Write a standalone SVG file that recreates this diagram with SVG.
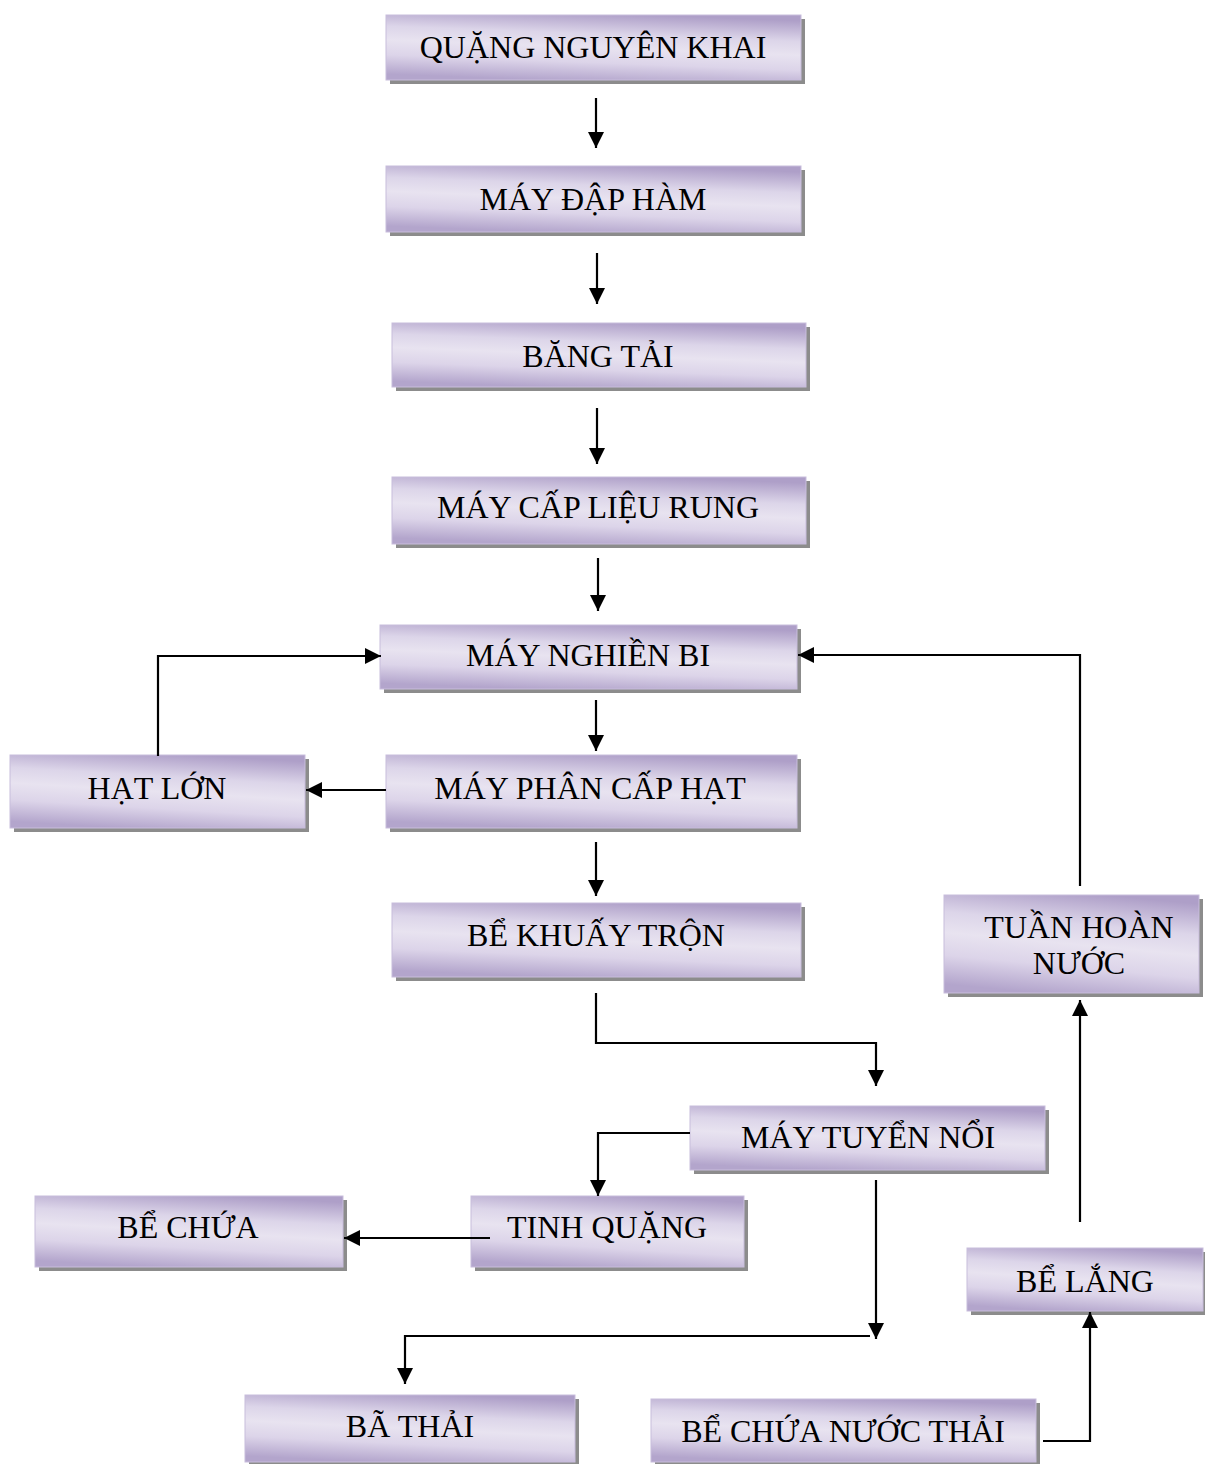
<svg xmlns="http://www.w3.org/2000/svg" width="1205" height="1464" viewBox="0 0 1205 1464">
<style>
.sh{fill:#8c8c8c}
.bx{fill:url(#g);stroke:#c8bddc;stroke-width:1}
.t{font-family:"Liberation Serif","Times New Roman",serif;font-size:32px;fill:#000;text-anchor:middle;dominant-baseline:central}
.c{fill:none;stroke:#000;stroke-width:2.2}
</style>
<defs>
<linearGradient id="g" x1="0.62" y1="0" x2="0.38" y2="1">
<stop offset="0" stop-color="#ae9fc8"/>
<stop offset="0.3" stop-color="#dcd5e9"/>
<stop offset="0.5" stop-color="#e8e3f0"/>
<stop offset="0.72" stop-color="#dcd4e9"/>
<stop offset="1" stop-color="#b3a5cc"/>
</linearGradient>
<marker id="b" viewBox="0 0 16 16" refX="16" refY="8" markerWidth="16" markerHeight="16" markerUnits="userSpaceOnUse" orient="auto" overflow="visible">
<path d="M0,0 L16,8 L0,16 z" fill="#000"/>
</marker>
</defs>
<g id="n1"><rect class="sh" x="390" y="19" width="415" height="65"/><rect class="bx" x="386" y="15" width="415" height="65"/><text class="t" x="593" y="47">QUẶNG NGUYÊN KHAI</text></g>
<g id="n2"><rect class="sh" x="390" y="170" width="415" height="66"/><rect class="bx" x="386" y="166" width="415" height="66"/><text class="t" x="593" y="199">MÁY ĐẬP HÀM</text></g>
<g id="n3"><rect class="sh" x="396" y="327" width="414" height="64"/><rect class="bx" x="392" y="323" width="414" height="64"/><text class="t" x="598" y="356">BĂNG TẢI</text></g>
<g id="n4"><rect class="sh" x="396" y="481" width="414" height="67"/><rect class="bx" x="392" y="477" width="414" height="67"/><text class="t" x="598" y="507">MÁY CẤP LIỆU RUNG</text></g>
<g id="n5"><rect class="sh" x="384" y="629" width="417" height="64"/><rect class="bx" x="380" y="625" width="417" height="64"/><text class="t" x="588" y="655">MÁY NGHIỀN BI</text></g>
<g id="n6"><rect class="sh" x="14" y="759" width="295" height="73"/><rect class="bx" x="10" y="755" width="295" height="73"/><text class="t" x="157" y="788">HẠT LỚN</text></g>
<g id="n7"><rect class="sh" x="390" y="759" width="411" height="73"/><rect class="bx" x="386" y="755" width="411" height="73"/><text class="t" x="590" y="788">MÁY PHÂN CẤP HẠT</text></g>
<g id="n8"><rect class="sh" x="396" y="907" width="409" height="74"/><rect class="bx" x="392" y="903" width="409" height="74"/><text class="t" x="596" y="935">BỂ KHUẤY TRỘN</text></g>
<g id="n9"><rect class="sh" x="948" y="899" width="255" height="98"/><rect class="bx" x="944" y="895" width="255" height="98"/><text class="t" x="1079" y="927">TUẦN HOÀN</text><text class="t" x="1079" y="963">NƯỚC</text></g>
<g id="n10"><rect class="sh" x="694" y="1110" width="355" height="64"/><rect class="bx" x="690" y="1106" width="355" height="64"/><text class="t" x="868" y="1137">MÁY TUYỂN NỔI</text></g>
<g id="n11"><rect class="sh" x="39" y="1200" width="308" height="71"/><rect class="bx" x="35" y="1196" width="308" height="71"/><text class="t" x="188" y="1227">BỂ CHỨA</text></g>
<g id="n12"><rect class="sh" x="475" y="1200" width="273" height="71"/><rect class="bx" x="471" y="1196" width="273" height="71"/><text class="t" x="607" y="1227">TINH QUẶNG</text></g>
<g id="n13"><rect class="sh" x="971" y="1252" width="236" height="63"/><rect class="bx" x="967" y="1248" width="236" height="63"/><text class="t" x="1085" y="1281">BỂ LẮNG</text></g>
<g id="n14"><rect class="sh" x="249" y="1399" width="330" height="67"/><rect class="bx" x="245" y="1395" width="330" height="67"/><text class="t" x="410" y="1426">BÃ THẢI</text></g>
<g id="n15"><rect class="sh" x="655" y="1403" width="385" height="63"/><rect class="bx" x="651" y="1399" width="385" height="63"/><text class="t" x="843" y="1431">BỂ CHỨA NƯỚC THẢI</text></g>
<g id="connectors">
<path class="c" marker-end="url(#b)" d="M596,98 V148"/>
<path class="c" marker-end="url(#b)" d="M597,253 V304"/>
<path class="c" marker-end="url(#b)" d="M597,408 V464"/>
<path class="c" marker-end="url(#b)" d="M598,558 V611"/>
<path class="c" marker-end="url(#b)" d="M158,756 V656 H381"/>
<path class="c" marker-end="url(#b)" d="M596,700 V751"/>
<path class="c" marker-end="url(#b)" d="M386,790 H306"/>
<path class="c" marker-end="url(#b)" d="M596,842 V896"/>
<path class="c" marker-end="url(#b)" d="M596,993 V1043 H876 V1086"/>
<path class="c" marker-end="url(#b)" d="M690,1133 H598 V1196"/>
<path class="c" marker-end="url(#b)" d="M876,1180 V1339"/>
<path class="c" marker-end="url(#b)" d="M870,1336 H405 V1384"/>
<path class="c" marker-end="url(#b)" d="M490,1238 H344"/>
<path class="c" marker-end="url(#b)" d="M1043,1441 H1090 V1312"/>
<path class="c" marker-end="url(#b)" d="M1080,1222 V1000"/>
<path class="c" marker-end="url(#b)" d="M1080,886 V655 H798"/>
</g>
</svg>
